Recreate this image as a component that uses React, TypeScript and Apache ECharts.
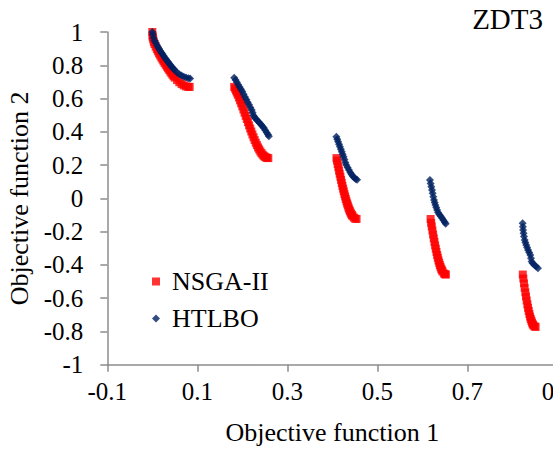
import React, { useEffect, useRef } from "react";
import * as echarts from "echarts";

const xTickValues = [-0.1, 0.1, 0.3, 0.5, 0.7, 0.9];
const yTickLabels = ["-1", "-0.8", "-0.6", "-0.4", "-0.2", "0", "0.2", "0.4", "0.6", "0.8", "1"];

const nsgaSeg1 = [
  [0, 1.0], [0.0005, 0.978], [0.001, 0.968], [0.002, 0.955], [0.0035, 0.94], [0.005, 0.928],
  [0.0075, 0.912], [0.01, 0.897], [0.0125, 0.884], [0.015, 0.871], [0.0175, 0.859], [0.02, 0.847],
  [0.0225, 0.835], [0.025, 0.824], [0.0275, 0.813], [0.03, 0.803], [0.0325, 0.792], [0.035, 0.782],
  [0.0375, 0.772], [0.04, 0.762], [0.0425, 0.752], [0.045, 0.743], [0.0475, 0.734], [0.05, 0.726],
  [0.055, 0.711], [0.06, 0.698], [0.065, 0.687], [0.07, 0.679], [0.075, 0.673], [0.08, 0.67], [0.083, 0.67],
];
const nsgaSeg2 = [
  [0.182, 0.67], [0.184, 0.66], [0.186, 0.648], [0.188, 0.636], [0.19, 0.623], [0.1925, 0.606],
  [0.195, 0.589], [0.1975, 0.571], [0.2, 0.553], [0.2025, 0.534], [0.205, 0.515], [0.2075, 0.496],
  [0.21, 0.477], [0.2125, 0.458], [0.215, 0.439], [0.2175, 0.42], [0.22, 0.402], [0.2225, 0.384],
  [0.225, 0.367], [0.2275, 0.35], [0.23, 0.334], [0.2325, 0.32], [0.235, 0.306], [0.2375, 0.294],
  [0.24, 0.282], [0.2425, 0.272], [0.245, 0.263], [0.2475, 0.256], [0.25, 0.25], [0.2525, 0.246],
  [0.255, 0.243], [0.2578, 0.242],
];
const nsgaSeg3 = [
  [0.4093, 0.242], [0.4105, 0.227], [0.412, 0.206], [0.4135, 0.187], [0.415, 0.167], [0.4165, 0.148],
  [0.418, 0.13], [0.4195, 0.111], [0.421, 0.093], [0.4225, 0.075], [0.424, 0.058], [0.4255, 0.042],
  [0.427, 0.026], [0.4285, 0.011], [0.43, -0.004], [0.4315, -0.018], [0.433, -0.031], [0.4345, -0.043],
  [0.436, -0.055], [0.4375, -0.066], [0.439, -0.076], [0.4405, -0.085], [0.442, -0.093], [0.4435, -0.1],
  [0.445, -0.107], [0.448, -0.116], [0.451, -0.122], [0.4539, -0.124],
];
const nsgaSeg4 = [
  [0.6184, -0.124], [0.6197, -0.147], [0.621, -0.169], [0.6225, -0.193], [0.624, -0.217], [0.6255, -0.24],
  [0.627, -0.262], [0.6285, -0.283], [0.63, -0.303], [0.6315, -0.322], [0.633, -0.341], [0.6345, -0.357],
  [0.636, -0.373], [0.6375, -0.387], [0.639, -0.401], [0.6405, -0.412], [0.642, -0.423], [0.6435, -0.432],
  [0.645, -0.44], [0.648, -0.452], [0.6505, -0.456], [0.6525, -0.458],
];
const nsgaSeg5 = [
  [0.8233, -0.458], [0.8245, -0.482], [0.826, -0.511], [0.8275, -0.538], [0.829, -0.565], [0.8305, -0.59],
  [0.832, -0.614], [0.8335, -0.637], [0.835, -0.658], [0.8365, -0.677], [0.838, -0.695], [0.8395, -0.711],
  [0.841, -0.725], [0.8425, -0.737], [0.844, -0.748], [0.8455, -0.757], [0.847, -0.764], [0.8495, -0.77],
  [0.8518, -0.773],
];

const htlboSeg1 = [
  [0, 1.0], [0.001, 0.985], [0.0025, 0.965], [0.005, 0.948], [0.0075, 0.935], [0.01, 0.922],
  [0.0125, 0.91], [0.015, 0.899], [0.0175, 0.888], [0.02, 0.877], [0.0225, 0.867], [0.025, 0.857],
  [0.0275, 0.847], [0.03, 0.838], [0.0325, 0.828], [0.035, 0.819], [0.0375, 0.81], [0.04, 0.801],
  [0.0425, 0.793], [0.045, 0.785], [0.0475, 0.777], [0.05, 0.77], [0.055, 0.757], [0.06, 0.746],
  [0.065, 0.738], [0.07, 0.731], [0.075, 0.726], [0.08, 0.722], [0.084, 0.72],
];
const htlboSeg2 = [
  [0.182, 0.725], [0.185, 0.712], [0.188, 0.698], [0.191, 0.683], [0.194, 0.67], [0.197, 0.656],
  [0.2, 0.642], [0.203, 0.626], [0.206, 0.61], [0.209, 0.594], [0.212, 0.578], [0.215, 0.562],
  [0.218, 0.546], [0.221, 0.531], [0.223, 0.515], [0.225, 0.498], [0.227, 0.488], [0.23, 0.479],
  [0.233, 0.47], [0.236, 0.46], [0.239, 0.451], [0.242, 0.442], [0.245, 0.432], [0.248, 0.423],
  [0.251, 0.41], [0.254, 0.396], [0.257, 0.384], [0.259, 0.374],
];
const htlboSeg3 = [
  [0.409, 0.37], [0.411, 0.355], [0.413, 0.34], [0.415, 0.325], [0.417, 0.31], [0.419, 0.295],
  [0.421, 0.28], [0.423, 0.265], [0.425, 0.25], [0.427, 0.233], [0.429, 0.215], [0.431, 0.2],
  [0.434, 0.185], [0.437, 0.17], [0.44, 0.155], [0.443, 0.143], [0.446, 0.132], [0.449, 0.124],
  [0.452, 0.117], [0.455, 0.112],
];
const htlboSeg4 = [
  [0.617, 0.11], [0.6185, 0.09], [0.62, 0.07], [0.6215, 0.05], [0.623, 0.03], [0.6245, 0.01],
  [0.626, -0.01], [0.6275, -0.025], [0.629, -0.04], [0.631, -0.055], [0.633, -0.07], [0.635, -0.085],
  [0.638, -0.097], [0.641, -0.108], [0.644, -0.12], [0.647, -0.132], [0.65, -0.143], [0.652, -0.152],
];
const htlboSeg5 = [
  [0.823, -0.15], [0.8235, -0.17], [0.824, -0.19], [0.825, -0.21], [0.826, -0.23], [0.8275, -0.25],
  [0.829, -0.265], [0.831, -0.28], [0.833, -0.295], [0.835, -0.31], [0.8375, -0.325], [0.84, -0.34],
  [0.8415, -0.36], [0.843, -0.38], [0.845, -0.39], [0.849, -0.4], [0.853, -0.41], [0.857, -0.42],
];

const nsgaData = [...nsgaSeg1, ...nsgaSeg2, ...nsgaSeg3, ...nsgaSeg4, ...nsgaSeg5];
const htlboData = [...htlboSeg1, ...htlboSeg2, ...htlboSeg3, ...htlboSeg4, ...htlboSeg5];

const FONT = '"Liberation Serif", "Times New Roman", serif';

export default function App() {
  const ref = useRef<HTMLDivElement>(null);
  useEffect(() => {
    if (!ref.current) return;
    const chart = echarts.init(ref.current, null, { renderer: "svg" });
    const axisColor = "#8c8c8c";
    chart.setOption({
      animation: false,
      backgroundColor: "#ffffff",
      textStyle: { fontFamily: FONT },
      title: {
        text: "ZDT3",
        right: 10,
        top: 4,
        padding: 0,
        textStyle: { fontFamily: FONT, fontSize: 29, fontWeight: "normal", color: "#000" },
      },
      legend: {
        orient: "vertical",
        left: 152,
        top: 268,
        itemWidth: 8,
        itemHeight: 8,
        itemGap: 10,
        padding: 0,
        data: [
          { name: "NSGA-II", icon: "rect" },
          { name: "HTLBO", icon: "diamond" },
        ],
        textStyle: { fontFamily: FONT, fontSize: 26, color: "#000", padding: [0, 0, 0, 7], lineHeight: 27 },
      },
      grid: {
        left: 107.3,
        right: -4.3,
        top: 32,
        bottom: 86.3,
        containLabel: false,
        outerBoundsMode: "none",
      },
      xAxis: {
        type: "value",
        min: -0.1,
        max: 0.9,
        name: "Objective function 1",
        nameLocation: "middle",
        nameGap: 55,
        nameTextStyle: { fontFamily: FONT, fontSize: 26, color: "#000" },
        axisLine: { onZero: false, lineStyle: { color: axisColor, width: 1.5 } },
        axisTick: { show: true, length: 7, customValues: xTickValues, lineStyle: { color: axisColor, width: 1.5 } },
        axisLabel: {
          customValues: xTickValues,
          margin: 14,
          fontFamily: FONT,
          fontSize: 25,
          color: "#000",
          formatter: (v: number) => v.toFixed(1),
        },
        splitLine: { show: false },
      },
      yAxis: {
        type: "value",
        min: -1,
        max: 1,
        interval: 0.2,
        name: "Objective function 2",
        nameLocation: "middle",
        nameGap: 72,
        nameTextStyle: { fontFamily: FONT, fontSize: 26, color: "#000" },
        axisLine: { show: true, onZero: false, lineStyle: { color: axisColor, width: 1.5 } },
        axisTick: { show: true, length: 7, lineStyle: { color: axisColor, width: 1.5 } },
        axisLabel: {
          margin: 24,
          fontFamily: FONT,
          fontSize: 25,
          color: "#000",
          formatter: (v: number) => {
            const idx = Math.round((v + 1) / 0.2);
            return yTickLabels[idx] ?? String(v);
          },
        },
        splitLine: { show: false },
      },
      series: [
        {
          name: "NSGA-II",
          type: "scatter",
          symbol: "rect",
          symbolSize: 8,
          itemStyle: { color: "#ff0000" },
          data: nsgaData,
        },
        {
          name: "HTLBO",
          type: "scatter",
          symbol: "diamond",
          symbolSize: 8,
          itemStyle: { color: "#002060" },
          data: htlboData,
        },
      ],
    });
    return () => chart.dispose();
  }, []);
  return (
    <div
      ref={ref}
      style={{ position: "fixed", left: 0, top: 0, width: 553, height: 451, background: "#fff" }}
    />
  );
}
